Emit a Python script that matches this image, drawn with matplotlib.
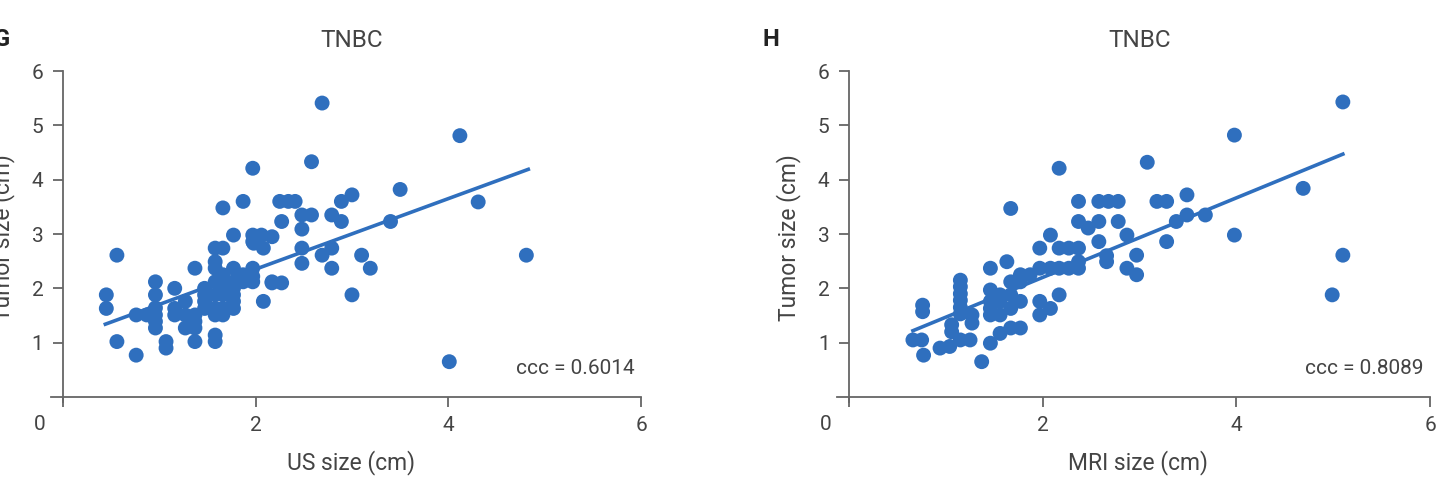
import matplotlib
matplotlib.use("Agg")
import matplotlib.pyplot as plt

plt.rcParams["font.family"] = ["Roboto", "DejaVu Sans"]

# --- data (cm) ---
us_size = [0.45, 0.45, 0.56, 0.56, 0.76, 0.76, 0.87,
           0.96, 0.96, 0.96, 0.96, 0.96, 0.96,
           1.07, 1.07, 1.16, 1.16, 1.16, 1.27, 1.27, 1.27,
           1.37, 1.37, 1.37, 1.37, 1.37,
           1.47, 1.47, 1.47, 1.47,
           1.58, 1.58, 1.58, 1.58, 1.58, 1.58, 1.58, 1.58, 1.58,
           1.66, 1.66, 1.66, 1.66, 1.66, 1.66, 1.66, 1.66,
           1.77, 1.77, 1.77, 1.77, 1.77, 1.77, 1.77,
           1.87, 1.87, 1.87,
           1.97, 1.97, 1.97, 1.97, 1.97, 1.97, 1.98,
           2.06, 2.08, 2.08, 2.17, 2.17, 2.17, 2.27, 2.27, 2.25, 2.34, 2.41,
           2.48, 2.48, 2.48, 2.48, 2.58, 2.58, 2.69, 2.69,
           2.79, 2.79, 2.79, 2.89, 2.89, 3.0, 3.0, 3.1, 3.19, 3.4, 3.5,
           4.12, 4.31, 4.81, 4.01]
us_tumor = [1.88, 1.63, 2.61, 1.02, 0.77, 1.51, 1.51,
            2.12, 1.88, 1.64, 1.51, 1.39, 1.27,
            1.02, 0.90, 2.00, 1.63, 1.51, 1.76, 1.27, 1.51,
            2.37, 1.51, 1.27, 1.02, 1.39,
            2.00, 1.76, 1.63, 1.88,
            2.74, 2.49, 2.37, 1.88, 1.51, 1.14, 1.02, 1.63, 2.12,
            2.74, 3.48, 2.12, 1.88, 1.63, 1.51, 2.00, 2.25,
            2.98, 2.37, 2.12, 2.00, 1.88, 1.63, 1.76,
            3.60, 2.12, 2.25,
            4.21, 2.98, 2.86, 2.37, 2.12, 2.22, 2.83,
            2.98, 2.74, 1.76, 2.95, 2.12, 2.10, 2.10, 3.23, 3.60, 3.60, 3.60,
            3.35, 3.09, 2.74, 2.46, 4.33, 3.35, 5.41, 2.61,
            3.35, 2.74, 2.37, 3.23, 3.60, 3.72, 1.88, 2.61, 2.37, 3.23, 3.82,
            4.81, 3.59, 2.61, 0.65]

mri_size = [0.66, 0.75, 0.77, 0.76, 0.76, 0.94, 1.04, 1.06, 1.06, 1.15, 1.25,
            1.15, 1.15, 1.15, 1.15, 1.15, 1.15, 1.27, 1.27,
            1.37, 1.46, 1.46, 1.46, 1.46, 1.46, 1.46, 1.56, 1.56, 1.56, 1.56,
            1.63, 1.67, 1.67, 1.67, 1.67, 1.67, 1.77, 1.77, 1.77, 1.77,
            1.87, 1.97, 1.97, 1.97, 1.97, 2.08, 2.08, 2.08,
            2.17, 2.17, 2.17, 2.17, 2.27, 2.27,
            2.37, 2.37, 2.37, 2.37, 2.37, 2.47, 2.58, 2.68, 2.78, 2.58, 2.58,
            2.66, 2.66, 2.78, 2.87, 2.87, 2.97, 2.97,
            3.08, 3.18, 3.28, 3.28, 3.38, 3.49, 3.49, 3.68,
            3.98, 3.98, 4.69, 5.10, 5.10, 4.99]
mri_tumor = [1.05, 1.05, 0.77, 1.69, 1.57, 0.90, 0.93, 1.33, 1.20, 1.05, 1.05,
             2.15, 2.03, 1.90, 1.78, 1.65, 1.53, 1.51, 1.36,
             0.65, 2.37, 1.97, 1.76, 1.63, 1.51, 0.99, 1.17, 1.88, 1.76, 1.51,
             2.49, 3.47, 2.12, 1.88, 1.63, 1.27, 2.12, 1.76, 1.27, 2.25,
             2.25, 2.37, 1.76, 1.51, 2.74, 2.98, 2.37, 1.63,
             4.21, 2.74, 2.37, 1.88, 2.74, 2.37,
             3.60, 3.23, 2.74, 2.49, 2.37, 3.11, 3.60, 3.60, 3.60, 3.23, 2.86,
             2.49, 2.60, 3.23, 2.98, 2.37, 2.61, 2.25,
             4.32, 3.60, 3.60, 2.86, 3.23, 3.72, 3.35, 3.35,
             4.82, 2.98, 3.84, 5.43, 2.61, 1.88]

# regression line end points
us_fit_x, us_fit_y = [0.44, 4.83], [1.34, 4.19]
mri_fit_x, mri_fit_y = [0.66, 5.10], [1.22, 4.47]

panels = [
    ("G", us_size, us_tumor, us_fit_x, us_fit_y, "US size (cm)", "ccc = 0.6014"),
    ("H", mri_size, mri_tumor, mri_fit_x, mri_fit_y, "MRI size (cm)", "ccc = 0.8089"),
]

BLUE = "#2f6fbe"
AX = "#666666"
TXT = "#444444"
W, H = 1447, 478

fig = plt.figure(figsize=(W / 100, H / 100), dpi=100)
axes_px = [(51.4, 641), (837.4, 1430)]   # left edge (x=-0.12), right edge (x=6)
letter_px = [10, 779]

for (letter, xs, ys, fx, fy, xlab, ccc), (x0, x1), lp in zip(panels, axes_px, letter_px):
    ax = fig.add_axes([x0 / W, 1 - 397 / H, (x1 - x0) / W, 326 / H])
    ax.scatter(xs, ys, s=115, color=BLUE, edgecolors="none", zorder=3)
    ax.plot(fx, fy, color=BLUE, lw=2.6, zorder=2)

    ax.set_xlim(-0.12, 6)
    ax.set_ylim(0, 6)
    for s in ["top", "right"]:
        ax.spines[s].set_visible(False)
    ax.spines["left"].set_position(("data", 0))
    ax.spines["left"].set_bounds(-0.1, 6)
    ax.spines["bottom"].set_bounds(-0.12, 6)
    for s in ["left", "bottom"]:
        ax.spines[s].set_color(AX)
        ax.spines[s].set_linewidth(1.3)

    ax.set_xticks([0, 2, 4, 6])
    ax.set_xticklabels(["", "2", "4", "6"])
    ax.set_yticks([1, 2, 3, 4, 5, 6])
    ax.tick_params(length=7, width=1.3, color=AX, labelcolor=TXT, labelsize=15, pad=7)
    ax.text(-0.24, -0.5, "0", ha="center", va="center", fontsize=15, color=TXT, clip_on=False)

    ax.set_xlabel(xlab, fontsize=16.5, color=TXT)
    ax.xaxis.set_label_coords(0.508, -0.163)
    ax.set_ylabel("Tumor size (cm)", fontsize=16.5, color=TXT)
    ax.yaxis.set_label_coords(-0.062, 0.49)

    ax.text(0.51, 1.095, "TNBC", transform=ax.transAxes, ha="center", va="center",
            fontsize=17.5, color=TXT)
    ax.text(5.93, 0.52, ccc, ha="right", va="center", fontsize=15, color=TXT)
    fig.text(lp / W, 1 - 40 / H, letter, ha="right", va="center", fontsize=17,
             fontweight="bold", color="#222222")

fig.savefig("out.png", dpi=100)
